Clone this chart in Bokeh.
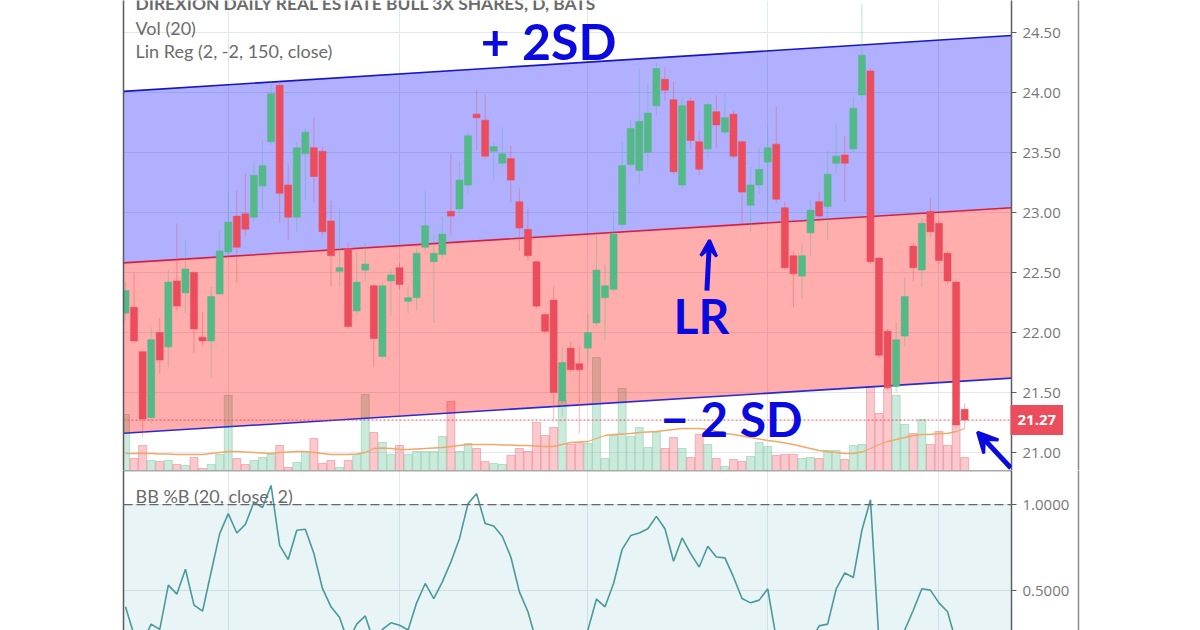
from bokeh.plotting import figure
from bokeh.layouts import column
from bokeh.embed import file_html
from bokeh.resources import INLINE
from bokeh.models import (Range1d, FixedTicker, NumeralTickFormatter, Span, Label, LinearAxis,
                          BoxAnnotation, Arrow, VeeHead, ColumnDataSource)

opens = [22.16,22.21,21.84,21.29,22.00,21.88,22.43,22.33,22.50,21.96,
         21.93,22.32,22.67,22.97,22.99,22.96,23.22,23.59,24.06,23.23,
         22.96,23.49,23.54,23.51,22.93,22.51,22.70,22.18,22.52,22.39,
         21.80,22.43,22.54,22.26,22.29,22.71,22.59,22.65,23.01,23.03,
         23.23,23.82,23.77,23.51,23.41,23.45,23.09,22.86,22.59,22.15,
         22.27,21.43,21.87,21.74,21.87,22.08,22.29,22.36,22.90,23.40,
         23.35,23.50,23.89,24.11,23.94,23.23,23.93,23.59,23.53,23.84,
         23.67,23.82,23.59,23.06,23.23,23.42,23.57,23.04,22.64,22.47,
         22.83,23.09,23.05,23.41,23.48,23.53,23.98,24.18,22.62,22.01,
         21.55,21.97,22.72,22.52,23.01,22.91,22.66,22.42,21.36]
closes = [22.35,21.93,21.28,21.94,21.77,22.42,22.22,22.53,22.03,21.93,
          22.30,22.68,22.92,22.71,22.86,23.31,23.39,23.99,23.16,22.96,
          23.54,23.67,23.30,22.84,22.64,22.54,22.05,22.42,22.57,21.95,
          22.39,22.48,22.40,22.29,22.66,22.89,22.66,22.82,22.97,23.27,
          23.64,23.79,23.47,23.55,23.49,23.27,22.87,22.64,22.22,22.01,
          21.50,21.75,21.69,21.69,22.00,22.52,22.39,22.82,23.39,23.70,
          23.76,23.83,24.20,24.02,23.34,23.89,23.60,23.36,23.90,23.73,
          23.79,23.47,23.17,23.23,23.36,23.54,23.11,22.54,22.49,22.64,
          23.02,22.97,23.32,23.47,23.41,23.87,24.31,22.59,21.81,21.54,
          21.94,22.30,22.54,22.91,22.84,22.60,22.43,21.23,21.27]
highs = [22.42,22.50,21.86,22.04,22.12,22.52,22.91,22.77,22.51,22.17,
         22.38,22.85,23.18,23.18,23.33,23.43,23.60,24.10,24.10,23.41,
         23.58,23.70,23.79,23.55,23.10,23.03,22.75,22.67,22.74,22.40,
         22.42,22.53,22.58,22.38,22.70,23.18,22.81,22.97,23.49,23.42,
         23.67,24.02,23.98,23.59,23.71,23.56,23.20,23.03,22.60,22.17,
         22.39,21.88,21.93,21.88,22.16,22.81,22.57,23.02,23.59,23.77,
         24.20,24.08,24.25,24.21,24.09,23.96,23.96,23.68,23.92,23.98,
         23.99,23.85,23.60,23.38,23.54,23.74,23.88,23.09,22.68,22.74,
         23.10,23.17,23.52,23.74,23.64,23.96,24.74,24.20,22.63,22.03,
         22.08,22.46,22.75,22.95,23.12,22.93,22.68,22.44,21.41]
lows = [22.10,21.91,21.13,21.24,21.66,21.71,22.18,22.16,21.83,21.89,
        21.63,22.32,22.62,22.41,22.80,22.93,23.02,23.56,22.91,22.77,
        22.84,23.10,23.08,22.80,22.38,22.38,22.03,22.15,22.43,21.71,
        21.78,22.14,22.36,22.16,22.18,22.68,22.08,22.62,22.81,23.00,
        23.16,23.52,23.45,23.28,23.38,23.08,22.68,22.60,22.20,21.99,
        21.27,21.30,21.67,21.16,21.74,22.05,21.93,22.33,22.87,23.38,
        23.24,23.38,23.81,23.93,23.32,23.20,23.53,23.31,23.46,23.54,
        23.64,23.45,22.91,22.84,23.16,22.99,23.08,22.52,22.21,22.28,
        22.64,22.92,22.77,23.33,23.09,23.50,23.95,22.57,21.79,21.52,
        21.50,21.89,22.43,22.38,22.80,22.57,22.40,21.20,21.20]
volume = [56,12,25,10,9,10,6,5,13,2,
          6,16,75,12,6,10,13,16,25,3,
          8,19,32,7,10,3,10,16,76,38,
          28,16,25,16,19,19,19,34,69,19,
          27,22,9,7,6,15,22,19,48,35,
          43,70,26,28,27,113,12,35,82,34,
          43,23,38,22,33,22,13,36,26,12,
          4,11,9,14,28,24,15,16,16,12,
          13,12,20,20,11,25,26,84,57,82,
          75,46,37,51,26,39,25,48,13]
volume_ma = [17,17,17,17,16.5,16.5,16,16,16,16,
             17,18,19,19,18.5,18,17.5,17,18,18.5,
             19,19,18,17,16,16,16,16.5,18,22,
             22.5,22,21,21,21.5,22,22.5,23,24,25,
             26,26,26,26,25.5,25.5,25,25,24.5,24,
             24,26,28,28.5,29,32,35,36,36.5,37,
             38,38.5,39,40,41,42,42,42,41,39,
             37,36,34.5,33,31.5,30,29,27.5,26,24,
             22,20,19,18,17,17,18.5,22,26,29,
             31,33,35,36,36,37,37,39,42]
pct_b = [.405,.24,.20,.304,.273,.531,.479,.624,.415,.38,
         .608,.831,.948,.835,.885,1.015,.983,1.112,.763,.68,
         .851,.857,.715,.512,.405,.343,.20,.304,.352,.20,
         .273,.312,.298,.27,.428,.541,.453,.55,.666,.802,
         1.006,1.064,.89,.876,.816,.695,.492,.376,.20,.18,
         .10,.15,.18,.20,.27,.45,.405,.541,.74,.82,
         .835,.86,.932,.86,.67,.806,.715,.637,.758,.695,
         .69,.579,.453,.428,.444,.51,.22,.15,.10,.15,
         .20,.294,.304,.51,.602,.576,.851,1.029,.20,.05,
         .10,.27,.385,.51,.502,.428,.376,.20,.10]
assert all(len(a) == 99 for a in (opens, closes, highs, lows, volume, volume_ma, pct_b))

price_ticks = [21.0, 21.5, 22.0, 22.5, 23.0, 23.5, 24.0, 24.5]
pct_ticks = [0.5, 1.0]
grid_dates = [12, 32, 54, 75, 95]
last_price = 21.27
reg_upper = [24.01, 24.475]
reg_mid = [22.58, 23.04]
reg_lower = [21.16, 21.62]

X0, X1 = -0.234, 103.47
GREEN, RED = "#53b987", "#eb4d5c"
AXIS = "#5d5d5d"
TICK_TXT = "#777777"
LEG_TXT = "#6b6b6b"
GRID = "#e4e8ee"
FONT = "Open Sans"
LEG_FONT = "Lato"
INK = "#0a0adf"

idx = list(range(99))
up = [c >= o for o, c in zip(opens, closes)]
col = [GREEN if u else RED for u in up]
src = ColumnDataSource(dict(x=idx, o=opens, c=closes, h=highs, l=lows, v=volume, col=col))

W = 1200
p = figure(width=W, height=470, output_backend="svg", toolbar_location=None,
           x_range=Range1d(X0, X1), y_range=Range1d(20.85, 24.767),
           y_axis_location="right", min_border_left=123, min_border_right=189,
           min_border_top=0, min_border_bottom=0, outline_line_color=None,
           background_fill_color="white", border_fill_color="white")
p.xaxis.visible = False
p.extra_y_ranges = {"vol": Range1d(0, 470)}
p.yaxis.ticker = FixedTicker(ticks=price_ticks)
p.yaxis.formatter = NumeralTickFormatter(format="0.00")

p.xgrid.ticker = FixedTicker(ticks=grid_dates)
p.ygrid.ticker = FixedTicker(ticks=price_ticks)
p.xgrid.grid_line_color = GRID
p.ygrid.grid_line_color = GRID

p.vbar(x="x", top="v", bottom=0, width=0.93, y_range_name="vol", source=src,
       fill_color="col", fill_alpha=0.30, line_color="col", line_alpha=0.35, line_width=1)
p.line(idx, volume_ma, y_range_name="vol", line_color="#f0a868", line_width=1.3)

xs = [X0, X1]
p.varea(xs, reg_mid, reg_upper, fill_color="#0000ff", fill_alpha=0.31)
p.varea(xs, reg_lower, reg_mid, fill_color="#ff0000", fill_alpha=0.32)
p.line(xs, reg_upper, line_color="#1616c8", line_width=1.6)
p.line(xs, reg_mid, line_color="#d41f45", line_width=1.6)
p.line(xs, reg_lower, line_color="#2a2ad0", line_width=1.6)

p.segment("x", "h", "x", "l", source=src, line_color="col", line_alpha=0.4, line_width=1)
p.vbar(x="x", top="o", bottom="c", width=0.82, source=src,
       fill_color="col", line_color="col", line_width=0.5)

p.add_layout(Span(location=last_price, dimension="width", line_color=RED,
                  line_dash="2 2", line_width=1))

def note(fig, text, x, y, size):
    fig.add_layout(Label(x=x, y=y, text=text, text_color=INK, text_font=LEG_FONT,
                         text_font_style="bold", text_font_size=size,
                         text_align="left", text_baseline="middle"))
note(p, "+ 2SD", 41.5, 24.43, "50px")
note(p, "LR", 64.0, 22.14, "48px")
note(p, "− 2 SD", 62.5, 21.28, "48px")
p.add_layout(Arrow(end=VeeHead(size=16, line_color=INK, fill_color=INK, line_width=3),
                   x_start=67.9, y_start=22.35, x_end=68.2, y_end=22.77,
                   line_color=INK, line_width=5))
p.add_layout(Arrow(end=VeeHead(size=20, line_color=INK, fill_color=INK, line_width=3),
                   x_start=103.4, y_start=20.87, x_end=99.5, y_end=21.17,
                   line_color=INK, line_width=5))

def legend(fig, text, y, bold=False, size="18px"):
    fig.add_layout(Label(x=135, y=y, x_units="canvas", y_units="data", text=text,
                         text_color=LEG_TXT, text_font=LEG_FONT, text_font_size=size,
                         text_font_style="bold" if bold else "normal",
                         text_baseline="middle", text_align="left"))

legend(p, "DIREXION DAILY REAL ESTATE BULL 3X SHARES, D, BATS", 24.74, bold=True, size="17.4px")
legend(p, "Vol (20)", 24.54)
legend(p, "Lin Reg (2, -2, 150, close)", 24.35)

q = figure(width=W, height=160, output_backend="svg", toolbar_location=None,
           x_range=p.x_range, y_range=Range1d(0.267, 1.199),
           y_axis_location="right", min_border_left=123, min_border_right=189,
           min_border_top=0, min_border_bottom=0, outline_line_color=None,
           background_fill_color="white", border_fill_color="white")
q.xaxis.visible = False
q.yaxis.ticker = FixedTicker(ticks=pct_ticks)
q.yaxis.formatter = NumeralTickFormatter(format="0.0000")
q.xgrid.ticker = FixedTicker(ticks=grid_dates)
q.ygrid.ticker = FixedTicker(ticks=pct_ticks)
q.xgrid.grid_line_color = GRID
q.ygrid.grid_line_color = GRID
q.add_layout(BoxAnnotation(bottom=0, top=1, fill_color="#008899", fill_alpha=0.09, line_color=None, level="underlay"))
q.add_layout(Span(location=1.0, dimension="width", line_color="#666666", line_dash="9 4", line_width=1.3))
q.line(idx, pct_b, line_color="#4a9a9a", line_width=1.6)
legend(q, "BB %B (20, close, 2)", 1.05)

def rule_axis(line_color):
    return LinearAxis(ticker=FixedTicker(ticks=[]), major_label_text_font_size="0px",
                      major_label_standoff=0, major_tick_out=0, major_tick_in=0,
                      minor_tick_out=0, minor_tick_in=0, axis_line_color=line_color, axis_line_width=1.5)

for f, gap in ((p, 11), (q, 2)):
    f.yaxis.axis_line_color = AXIS
    f.yaxis.axis_line_width = 1.5
    f.yaxis.major_tick_line_color = AXIS
    f.yaxis.major_tick_out = 5
    f.yaxis.major_tick_in = 0
    f.yaxis.minor_tick_line_color = None
    f.yaxis.major_label_text_color = TICK_TXT
    f.yaxis.major_label_text_font = FONT
    f.yaxis.major_label_text_font_size = "15px"
    f.yaxis.major_label_standoff = 6
    f.yaxis.axis_label = "\u00a0"
    f.yaxis.axis_label_text_font_size = "1px"
    f.yaxis.axis_label_standoff = gap
    f.add_layout(rule_axis("#5a5a5a"), "left")
    f.add_layout(rule_axis("#8a8a8a"), "right")
q.add_layout(Span(location=1.199, dimension="width", line_color="#555555", line_width=1.5))

p.add_layout(Label(x=1010, y=last_price, x_units="canvas", y_units="data", text="21.27",
                   text_color="white", text_font=FONT, text_font_style="bold", text_font_size="15px",
                   text_baseline="middle", text_align="left", level="overlay",
                   background_fill_color=RED, padding=(7, 10)), "right")

page = column(p, q, spacing=0, margin=0)
open("out.html", "w").write(file_html(page, INLINE))
